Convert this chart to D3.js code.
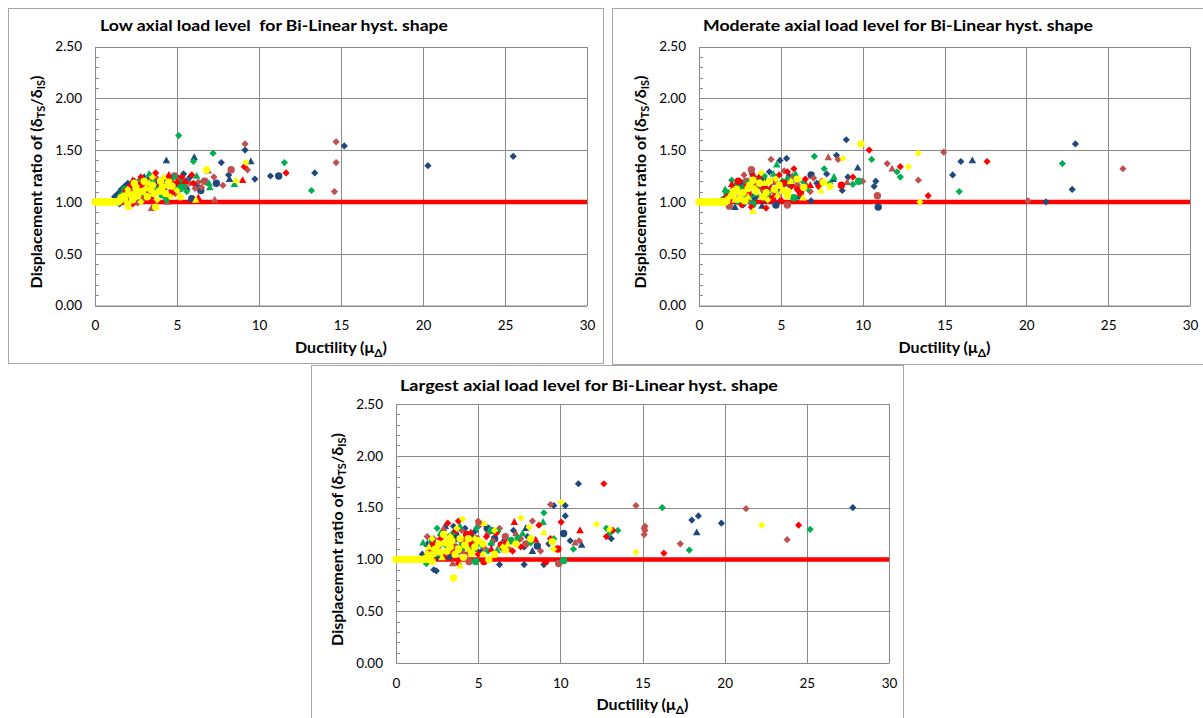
<!DOCTYPE html>
<html>
<head>
<meta charset="utf-8">
<script src="https://cdn.jsdelivr.net/npm/d3@7"></script>
<style>
  body { margin: 0; background: #fff; }
  svg { display: block; font-family: Lato, "Open Sans", sans-serif; }
</style>
</head>
<body>
<svg id="chart" width="1203" height="718"></svg>
<script>
// ---- data ----
var xTicks = [0, 5, 10, 15, 20, 25, 30];
var yTicks = [0, 0.5, 1, 1.5, 2, 2.5];
var baseRatio = 1.0;
var titles = [
  "Low axial load level  for Bi-Linear hyst. shape",
  "Moderate axial load level for Bi-Linear hyst. shape",
  "Largest axial load level for Bi-Linear hyst. shape"
];
// series code: colour letter + shape letter (d diamond, o circle, t triangle)
var seriesOrder = ["Bd", "Bo", "Bt", "Md", "Mo", "Mt", "Gd", "Go", "Gt", "Rd", "Ro", "Rt", "Yd", "Yo", "Yt"];
var seriesColor = { B: "#1F497D", M: "#C0504D", G: "#00B050", R: "#FF0000", Y: "#FFFF00" };

// [ductility, displacement ratio]
var lowSeries = {
  Bd: [[1.2,1.05],[1.4,1.08],[1.6,1.12],[1.8,1.15],[2.0,1.18],[2.2,1.17],[2.4,1.2],[2.6,1.19],[2.9,1.21],[3.1,1.12],[3.3,1.22],[3.6,1.18],[3.9,1.15],[4.2,1.22],[4.6,1.2],[5.1,1.23],[5.4,1.27],[5.6,1.2],[6.6,1.2],[7.7,1.38],[8.15,1.26],[9.15,1.5],[9.75,1.22],[10.7,1.25],[13.4,1.28],[15.2,1.54],[20.3,1.35],[25.5,1.44],[1.5,0.98],[2.7,1.05],
       [2.1,1.1],[3.4,1.25],[4.9,1.15],[5.8,1.24],[6.2,1.16],[1.9,1.07]],
  Bo: [[1.7,1.1],[2.3,1.13],[3.0,1.16],[3.5,1.08],[4.1,1.12],[4.8,1.1],[5.9,1.03],[6.45,1.11],[11.2,1.25],[2.1,1.02],[7.4,1.18]],
  Bt: [[1.3,1.02],[2.5,1.12],[3.8,1.2],[4.35,1.4],[5.3,1.19],[6.05,1.43],[8.2,1.22],[9.5,1.39],[3.0,1.24],[5.6,1.14]],
  Md: [[1.5,1.05],[2.2,1.1],[2.8,1.14],[3.4,1.08],[4.0,1.2],[4.7,1.17],[5.5,1.15],[6.1,1.13],[6.3,1.19],[7.25,1.24],[9.15,1.56],[9.3,1.31],[14.7,1.58],[14.7,1.38],[14.6,1.1],[2.6,0.99],
       [3.7,1.24],[5.2,1.22],[4.9,1.08],[5.8,1.18],[6.5,1.14],[7.8,1.16]],
  Mo: [[1.9,1.04],[2.9,1.03],[3.5,1.22],[4.85,1.25],[8.3,1.31],[4.3,1.06],[3.1,1.18],[6.7,1.2]],
  Mt: [[2.7,1.2],[3.45,0.94],[4.4,1.0],[6.9,1.3],[7.3,1.02],[5.0,1.12]],
  Gd: [[1.6,1.07],[2.4,1.15],[3.0,1.08],[3.9,1.12],[4.35,1.02],[5.1,1.64],[6.0,1.39],[7.2,1.47],[11.55,1.38],[13.2,1.11],[4.5,1.18],
       [3.5,1.2],[4.8,1.24],[5.6,1.1],[2.2,1.05]],
  Go: [[1.8,1.12],[2.6,1.09],[3.3,1.14],[5.2,1.13],[5.35,1.15],[4.1,1.07]],
  Gt: [[2.0,1.1],[2.8,1.23],[3.3,1.27],[3.7,1.14],[6.2,1.25],[6.95,1.18],[7.0,1.14],[8.5,1.17],[1.4,1.03],[5.3,1.22],[4.2,1.15]],
  Rd: [[1.7,1.02],[2.1,1.15],[2.5,1.08],[3.0,1.2],[3.7,1.28],[4.2,1.12],[4.4,1.23],[5.0,1.19],[5.9,1.26],[9.1,1.34],[11.65,1.28],[2.3,0.98],
       [3.3,1.1],[4.6,1.2],[5.3,1.24],[2.8,1.24],[6.0,1.18]],
  Ro: [[1.9,1.1],[2.7,1.16],[3.4,1.05],[4.0,1.18],[4.7,1.1]],
  Rt: [[1.6,1.0],[2.3,1.21],[3.2,1.14],[4.5,1.26],[6.3,1.04],[9.0,1.21],[5.5,1.2]],
  Yd: [[1.7,1.06],[2.4,1.09],[3.1,1.13],[3.8,1.02],[4.4,1.16],[5.0,1.11],[9.2,1.38],[2.8,1.0],[2.0,1.12],[3.5,1.24],[4.6,1.05]],
  Yo: [[0,1],[0.1,1],[0.2,1],[0.3,1],[0.4,1],[0.5,1],[0.6,1],[0.7,1],[0.8,1],[0.9,1],[1.0,1],[1.1,1],[1.2,1],[1.3,1],[1.4,1],[1.5,1.01],
       [1.8,1.03],[2.2,1.07],[2.5,1.14],[2.9,1.1],[3.2,1.05],[3.5,1.16],[3.7,0.95],[4.0,1.2],[4.3,1.08],[4.7,1.15],[5.2,1.05],[6.8,1.31],[2.0,0.98],[3.0,1.2],[1.6,1.04],
       [2.3,1.02],[2.6,1.06],[3.4,1.12],[3.9,1.1],[4.5,1.19],[4.1,1.14],[3.6,1.08],[2.4,1.18]],
  Yt: [[2.05,0.95],[2.6,1.12],[3.3,1.18],[4.2,1.24],[6.15,1.02],[8.6,1.21],[1.9,1.08]]
};

var modSeries = {
  Bd: [[1.5,1.03],[2.0,1.08],[2.4,1.14],[2.9,1.1],[3.25,1.27],[3.6,1.15],[4.3,1.29],[4.95,1.4],[5.35,1.42],[5.0,1.12],[6.0,1.2],[6.85,1.01],[7.8,1.27],[8.4,1.45],[8.75,1.11],[9.0,1.6],[9.1,1.24],[10.7,1.15],[10.8,1.2],[16.0,1.39],[15.5,1.26],[21.2,1.0],[23.0,1.56],[22.8,1.12],[2.7,0.97],
       [3.0,1.2],[4.0,1.09],[5.5,1.25],[6.3,1.14],[7.2,1.18]],
  Bo: [[1.9,1.06],[2.6,1.18],[3.95,1.21],[4.7,0.97],[5.6,1.17],[6.85,1.26],[10.95,0.95],[3.4,1.05]],
  Bt: [[1.8,0.99],[2.2,0.95],[3.0,1.12],[3.85,0.96],[4.5,1.19],[8.2,1.22],[9.7,1.33],[16.7,1.4],[4.2,1.02],[6.1,1.05]],
  Md: [[1.6,1.04],[2.2,1.12],[2.75,1.26],[3.5,1.16],[4.1,1.1],[4.4,1.41],[5.2,1.3],[6.2,1.07],[7.0,1.23],[8.5,1.41],[10.0,1.2],[11.5,1.37],[13.4,1.21],[14.95,1.48],[20.1,1.01],[25.9,1.32],[3.1,1.0],
       [2.4,1.19],[3.8,1.05],[5.9,1.22],[6.8,1.1],[7.5,1.2]],
  Mo: [[1.85,0.96],[2.5,1.04],[3.2,1.31],[3.9,1.13],[5.4,0.97],[6.0,1.15],[10.9,1.06],[4.6,1.2],[2.9,1.2]],
  Mt: [[2.1,1.1],[3.3,1.23],[4.8,1.08],[6.5,1.18],[7.9,1.43],[9.05,1.19],[11.8,1.32],[5.7,1.25]],
  Gd: [[1.4,1.02],[2.0,1.21],[2.5,1.1],[3.1,1.05],[3.7,1.18],[4.3,1.12],[5.1,1.2],[6.1,1.1],[7.05,1.44],[7.65,1.32],[9.4,1.17],[10.55,1.41],[12.1,1.29],[12.3,1.24],[15.9,1.1],[22.2,1.37],
       [2.7,1.14],[4.0,1.25],[5.5,1.16],[6.4,1.19],[8.0,1.18]],
  Go: [[1.7,1.09],[2.3,1.16],[2.8,1.02],[3.6,1.22],[4.2,1.06],[5.8,1.04],[9.75,1.2],[3.3,0.98]],
  Gt: [[1.6,1.12],[2.4,1.0],[3.0,1.19],[4.55,1.27],[4.75,1.36],[5.4,1.23],[8.25,1.24],[6.6,1.13],[3.5,1.08],[5.9,1.27]],
  Rd: [[1.7,1.05],[2.1,1.13],[2.6,0.97],[3.2,0.95],[3.5,1.2],[4.1,0.94],[4.9,1.26],[5.65,1.15],[5.8,1.32],[6.5,1.22],[9.4,1.24],[10.4,1.5],[12.3,1.34],[14.0,1.06],[17.6,1.39],[2.9,1.15],
       [3.3,1.25],[4.6,1.09],[5.4,1.29],[6.0,1.12],[7.3,1.15]],
  Ro: [[1.9,1.02],[2.4,1.2],[3.0,1.08],[4.0,1.15],[4.5,1.03],[5.2,1.18],[8.7,1.16],[6.2,1.09]],
  Rt: [[2.0,1.17],[2.8,1.1],[3.7,1.25],[4.4,1.14],[6.8,1.16],[5.0,1.03]],
  Yd: [[1.8,1.04],[2.5,1.08],[3.4,1.13],[4.2,1.02],[4.7,1.22],[5.5,1.1],[8.8,1.42],[12.8,1.34],[13.4,1.47],[13.5,1.0],[3.8,1.28]],
  Yo: [[0,1],[0.1,1],[0.2,1],[0.3,1],[0.4,1],[0.5,1],[0.6,1],[0.7,1],[0.8,1],[0.9,1],[1.0,1],[1.1,1],[1.2,1],[1.3,1],[1.4,1],[1.5,1],[1.6,1],[1.7,1.01],
       [2.0,1.06],[2.3,1.12],[2.7,1.09],[3.1,1.16],[3.5,1.1],[3.9,1.05],[4.3,1.2],[4.6,1.12],[5.15,1.11],[6.4,1.14],[7.6,1.19],[8.0,1.15],[9.9,1.56],[2.8,1.01],[3.3,1.21],
       [2.5,1.03],[3.0,1.13],[3.7,1.18],[4.1,1.09],[4.9,1.16],[5.4,1.06],[6.0,1.22],[2.1,1.1]],
  Yt: [[2.2,1.02],[3.0,1.05],[3.3,0.91],[4.0,1.18],[4.8,1.07],[6.35,1.04],[7.45,1.11],[5.6,1.2]]
};

var largeSeries = {
  Bd: [[1.6,1.05],[2.3,0.9],[2.45,0.89],[2.9,1.24],[3.3,1.1],[3.9,1.18],[4.6,1.22],[5.2,1.08],[5.8,1.15],[6.3,0.95],[7.15,1.28],[7.4,1.18],[7.8,0.95],[7.8,1.12],[9.0,0.95],[9.6,1.52],[10.3,1.52],[10.3,1.42],[10.6,1.18],[11.1,1.73],[13.1,1.2],[18.0,1.38],[18.4,1.42],[19.8,1.35],[27.8,1.5],[4.2,1.3],
       [2.6,1.02],[3.5,1.32],[4.8,1.27],[6.5,1.1],[8.0,1.22],[9.3,1.15]],
  Bo: [[2.1,1.12],[3.2,1.03],[4.4,1.14],[5.55,1.3],[8.6,1.13],[10.2,1.25],[6.0,1.2],[3.6,1.2]],
  Bt: [[1.9,1.15],[3.7,1.25],[4.9,1.1],[6.6,1.2],[8.3,1.08],[11.3,1.14],[18.3,1.26],[3.0,1.32],[7.9,1.3]],
  Md: [[1.9,1.22],[2.6,1.12],[3.4,1.18],[4.0,1.28],[4.7,1.16],[5.0,1.37],[5.9,1.18],[6.9,1.1],[8.3,1.37],[9.4,1.53],[11.15,1.18],[14.6,1.52],[15.15,1.32],[15.15,1.28],[15.1,1.24],[15.1,1.3],[17.3,1.15],[21.3,1.49],[23.8,1.19],[3.0,1.05],
       [2.3,1.2],[4.4,1.06],[5.6,1.25],[6.3,1.3],[7.6,1.2],[8.8,1.08]],
  Mo: [[2.4,1.06],[3.6,1.12],[4.45,0.98],[5.05,1.34],[6.65,1.22],[9.9,0.96],[7.9,1.15],[4.9,1.2]],
  Mt: [[1.8,1.02],[3.45,0.96],[4.1,1.08],[5.4,1.12],[7.3,1.25],[10.9,1.16],[2.9,1.3]],
  Gd: [[1.85,0.96],[2.5,1.3],[3.0,1.14],[3.7,1.05],[4.3,1.2],[5.2,1.14],[6.05,1.26],[6.2,1.27],[7.4,1.21],[9.0,1.45],[10.8,1.1],[12.8,1.3],[13.0,1.25],[13.5,1.28],[16.2,1.5],[17.85,1.09],[25.2,1.29],[5.6,1.08],
       [2.1,1.1],[3.5,1.26],[4.9,1.3],[6.6,1.14],[8.2,1.16],[9.6,1.2]],
  Go: [[2.2,1.18],[3.3,1.22],[4.85,0.98],[5.8,1.28],[10.2,0.99],[7.0,1.18],[4.0,1.12]],
  Gt: [[1.65,1.16],[2.7,1.25],[3.9,1.32],[6.15,1.09],[8.95,1.36],[4.6,1.1],[7.7,1.25],[2.4,1.05],[5.8,1.16]],
  Rd: [[2.0,1.08],[2.7,1.2],[3.15,1.35],[3.8,1.37],[3.8,0.96],[4.5,1.15],[5.5,1.22],[6.7,1.16],[8.7,1.33],[10.05,1.36],[12.65,1.73],[12.8,1.22],[13.2,1.28],[16.3,1.06],[24.5,1.33],[7.6,1.12],
       [2.9,1.02],[4.1,1.18],[5.0,1.05],[6.1,1.25],[7.1,1.08],[9.4,1.2]],
  Ro: [[2.3,1.15],[3.4,1.08],[5.35,0.98],[6.4,1.14],[9.1,0.98],[9.85,1.1],[4.3,1.24]],
  Rt: [[2.5,1.1],[3.6,1.28],[4.55,1.26],[7.2,1.36],[8.5,1.19],[11.2,1.28],[5.8,1.1]],
  Yd: [[1.9,1.06],[2.6,1.14],[3.3,1.22],[4.05,1.39],[4.8,1.2],[5.3,1.05],[7.6,1.4],[8.1,1.31],[10.05,1.55],[12.2,1.34],[13.0,1.29],[14.6,1.07],[22.25,1.33],[6.5,1.12],
       [2.2,1.2],[3.7,1.3],[6.0,1.28],[9.6,1.1]],
  Yo: [[0,1],[0.1,1],[0.2,1],[0.3,1],[0.4,1],[0.5,1],[0.6,1],[0.7,1],[0.8,1],[0.9,1],[1.0,1],[1.1,1],[1.2,1],[1.3,1],[1.4,1],[1.5,1],[1.6,1],[1.7,1],[1.8,1.01],[1.9,1.0],
       [2.1,1.04],[2.4,1.1],[2.7,1.07],[3.0,1.16],[3.3,1.12],[3.5,0.82],[3.6,1.05],[3.9,1.2],[4.2,1.14],[4.6,1.06],[5.0,1.18],[5.65,1.0],[6.65,1.09],[9.5,1.17],[2.2,0.98],[2.9,1.24],
       [2.3,1.06],[2.6,1.15],[3.1,1.08],[3.4,1.18],[3.8,1.1],[4.1,1.02],[4.4,1.2],[4.8,1.12],[5.3,1.15],[6.0,1.05],[7.3,1.15],[8.2,1.2]],
  Yt: [[2.0,1.12],[2.8,1.02],[3.2,1.2],[4.4,1.1],[5.35,1.35],[6.8,1.15],[9.0,1.26],[3.9,0.94]]
};

// ---- layout ----
var panels = [
  { title: titles[0], series: lowSeries,   box: [8.5, 8.5, 595, 355],   plot: [95, 46.5, 587, 305.5], titleX: 100, titleY: 31,  titleW: 348 },
  { title: titles[1], series: modSeries,   box: [612.5, 8.5, 610, 356], plot: [699, 46.5, 1190, 305.5], titleX: 703, titleY: 31, titleW: 390 },
  { title: titles[2], series: largeSeries, box: [311.5, 365.5, 592, 370], plot: [396, 404, 889, 663], titleX: 400, titleY: 391, titleW: 378 }
];

var svg = d3.select("#chart");
var gridColor = "#8a8a8a";

function shapePath(s) {
  if (s === "d") return "M0,-3.6L3.6,0L0,3.6L-3.6,0Z";
  if (s === "t") return "M0,-4L3.8,2.8L-3.8,2.8Z";
  return d3.arc()({ innerRadius: 0, outerRadius: 3.7, startAngle: 0, endAngle: 2 * Math.PI });
}

panels.forEach(function (p) {
  var left = p.plot[0], top = p.plot[1], right = p.plot[2], bottom = p.plot[3];
  var x = d3.scaleLinear().domain([0, 30]).range([left, right]);
  var y = d3.scaleLinear().domain([0, 2.5]).range([bottom, top]);

  var g = svg.append("g");

  g.append("rect")
    .attr("x", p.box[0]).attr("y", p.box[1])
    .attr("width", p.box[2]).attr("height", p.box[3])
    .attr("fill", "#fff").attr("stroke", "#a6a6a6").attr("stroke-width", 1);

  // horizontal grid + y labels
  var ya = g.append("g").attr("transform", "translate(" + left + ",0)")
    .call(d3.axisLeft(y).tickValues(yTicks).tickFormat(d3.format(".2f"))
      .tickSize(-(right - left)).tickSizeOuter(0).tickPadding(13));
  ya.select(".domain").attr("stroke", gridColor);
  ya.selectAll(".tick line").attr("stroke", gridColor).attr("shape-rendering", "crispEdges");
  ya.selectAll(".tick text").attr("font-family", "Lato, sans-serif").attr("font-size", 13.5).attr("fill", "#000");

  // minor ticks every 0.1
  g.selectAll(".minor").data(y.ticks(25).filter(function (v) { return yTicks.indexOf(v) < 0; }))
    .enter().append("line")
    .attr("x1", left).attr("x2", left + 4)
    .attr("y1", function (d) { return Math.round(y(d)) + 0.5; })
    .attr("y2", function (d) { return Math.round(y(d)) + 0.5; })
    .attr("stroke", gridColor);

  // vertical grid + x labels
  var xa = g.append("g").attr("transform", "translate(0," + bottom + ")")
    .call(d3.axisBottom(x).tickValues(xTicks)
      .tickSize(-(bottom - top)).tickSizeOuter(0).tickPadding(15));
  xa.select(".domain").attr("stroke", gridColor);
  xa.selectAll(".tick line").attr("stroke", gridColor).attr("shape-rendering", "crispEdges");
  xa.selectAll(".tick text").attr("font-family", "Lato, sans-serif").attr("font-size", 13.5).attr("fill", "#000");

  // reference line at ratio 1.0
  g.append("line")
    .attr("x1", x(0)).attr("x2", x(30))
    .attr("y1", y(baseRatio)).attr("y2", y(baseRatio))
    .attr("stroke", "#FF0000").attr("stroke-width", 4.5);

  // points
  seriesOrder.forEach(function (code) {
    var pts = p.series[code] || [];
    g.selectAll(".pt-" + code).data(pts).enter().append("path")
      .attr("d", shapePath(code[1]))
      .attr("transform", function (d) { return "translate(" + x(d[0]) + "," + y(d[1]) + ")"; })
      .attr("fill", seriesColor[code[0]]);
  });

  // title
  g.append("text")
    .attr("x", p.titleX).attr("y", p.titleY)
    .attr("font-size", 15.5).attr("font-weight", "bold")
    .attr("textLength", p.titleW).attr("lengthAdjust", "spacingAndGlyphs")
    .style("white-space", "pre")
    .text(p.title);

  // x axis label
  var xl = g.append("text")
    .attr("x", (left + right) / 2).attr("y", bottom + 47)
    .attr("text-anchor", "middle").attr("font-size", 16).attr("font-weight", "bold");
  xl.append("tspan").text("Ductility (\u03bc");
  xl.append("tspan").attr("font-size", 12).attr("dy", 4).text("\u0394");
  xl.append("tspan").attr("dy", -4).text(")");

  // y axis label
  var yl = g.append("text")
    .attr("transform", "translate(" + (left - 59) + "," + ((top + bottom) / 2 + 6) + ") rotate(-90)")
    .attr("dy", "0.35em")
    .attr("text-anchor", "middle").attr("font-size", 16).attr("font-weight", "bold");
  yl.append("tspan").text("Displacement ratio of (\u03b4");
  yl.append("tspan").attr("font-size", 11).attr("dy", 3).text("TS");
  yl.append("tspan").attr("dy", -3).text("/\u03b4");
  yl.append("tspan").attr("font-size", 11).attr("dy", 3).text("IS");
  yl.append("tspan").attr("dy", -3).text(")");
});
</script>
</body>
</html>
